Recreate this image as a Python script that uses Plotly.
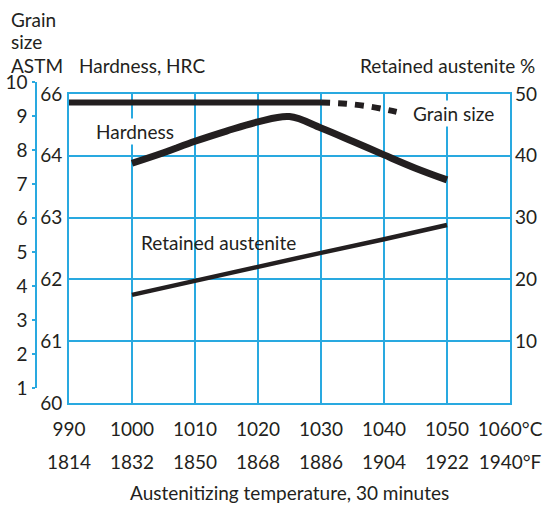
import plotly.graph_objects as go

# ---------------- data ----------------
temps_c = [990, 1000, 1010, 1020, 1030, 1040, 1050, 1060]
temps_c_labels = ["990", "1000", "1010", "1020", "1030", "1040", "1050", "1060°C"]
temps_f_labels = ["1814", "1832", "1850", "1868", "1886", "1904", "1922", "1940°F"]

hard_t = [1000, 1005, 1010, 1015, 1020, 1025, 1030, 1035, 1040, 1045, 1050]
hard_hrc = [63.88, 64.1, 64.47, 64.8, 65.1, 65.27, 64.9, 64.47, 64.03, 63.8, 63.61]

ra_t = [1000, 1010, 1020, 1030, 1040, 1050]
ra_pct = [17.5, 19.8, 22.0, 24.3, 26.5, 28.8]

grain_solid_t = [990, 1030]
grain_solid = [9.4, 9.4]
grain_dash_t = [1030, 1034, 1038, 1042]
grain_dash = [9.4, 9.36, 9.27, 9.12]

hrc_ticks = [60, 61, 62, 63, 64, 66]
ra_ticks = [10, 20, 30, 40, 50]
grain_ticks = [1, 2, 3, 4, 5, 6, 7, 8, 9, 10]


# hardness scale: 1 HRC per division up to 64, then 2 HRC per division (64-66)
def hrc_axis(v):
    return v if v <= 64 else 64 + (v - 64) / 2.0


BLUE = "#29a9e0"
INK = "#231f20"
FONT = "Lato"
FS = 19
W, H = 544, 505


def px_x(p):
    return p / W


def px_y(p):
    return 1 - p / H


fig = go.Figure()

fig.add_trace(go.Scatter(
    x=hard_t, y=[hrc_axis(v) for v in hard_hrc], mode="lines",
    line=dict(color=INK, width=7, shape="spline", smoothing=1.0),
    xaxis="x", yaxis="y", showlegend=False, hoverinfo="skip"))

fig.add_trace(go.Scatter(
    x=ra_t, y=ra_pct, mode="lines",
    line=dict(color=INK, width=4.5),
    xaxis="x", yaxis="y2", showlegend=False, hoverinfo="skip"))

# invisible trace so the Fahrenheit axis is drawn
fig.add_trace(go.Scatter(
    x=[temps_c[0], temps_c[-1]], y=[None, None], mode="lines",
    xaxis="x2", yaxis="y", showlegend=False, hoverinfo="skip"))

fig.add_trace(go.Scatter(
    x=grain_solid_t, y=grain_solid, mode="lines",
    line=dict(color=INK, width=6),
    xaxis="x3", yaxis="y3", showlegend=False, hoverinfo="skip"))

fig.add_trace(go.Scatter(
    x=grain_dash_t, y=grain_dash, mode="lines",
    line=dict(color=INK, width=6, dash="9px,8px", shape="spline"),
    xaxis="x3", yaxis="y3", showlegend=False, hoverinfo="skip"))

xdom = [px_x(69), px_x(510)]

fig.update_layout(
    width=W, height=H,
    margin=dict(l=0, r=0, t=0, b=0, autoexpand=False),
    paper_bgcolor="white", plot_bgcolor="rgba(0,0,0,0)",
    font=dict(family=FONT, size=FS, color=INK),
    xaxis=dict(domain=xdom, range=[990, 1060], anchor="y", automargin=False,
               tickvals=temps_c, ticktext=temps_c_labels,
               showgrid=True, gridcolor=BLUE, gridwidth=1.5,
               showline=True, mirror=True, linecolor=BLUE, linewidth=2,
               zeroline=False, ticks="", ticklabelstandoff=8),
    xaxis2=dict(overlaying="x", anchor="y", side="bottom", range=[990, 1060],
                automargin=False,
                tickvals=temps_c, ticktext=temps_f_labels,
                showgrid=False, showline=False, zeroline=False,
                ticks="", ticklabelstandoff=46),
    xaxis3=dict(domain=xdom, range=[990, 1060], anchor="y3", visible=False,
                automargin=False),
    yaxis=dict(domain=[px_y(403), px_y(94)], range=[60, 65], anchor="x",
               automargin=False,
               tickvals=[hrc_axis(v) for v in hrc_ticks],
               ticktext=[str(v) for v in hrc_ticks],
               showgrid=True, gridcolor=BLUE, gridwidth=1.5,
               showline=True, mirror=True, linecolor=BLUE, linewidth=2,
               zeroline=False, ticks="", ticklabelstandoff=1),
    yaxis2=dict(overlaying="y", side="right", anchor="x", range=[0, 50],
                automargin=False,
                tickvals=ra_ticks, showgrid=False, showline=False,
                zeroline=False, ticks="", ticklabelstandoff=4),
    yaxis3=dict(domain=[px_y(388), px_y(82)], range=[1, 10], anchor="free",
                position=px_x(36), side="left", automargin=False,
                tickvals=grain_ticks, ticks="outside", ticklen=3,
                tickcolor=BLUE, tickwidth=1.5,
                showline=True, linecolor=BLUE, linewidth=1.5,
                showgrid=False, zeroline=False, ticklabelstandoff=1),
)


def ann(text, x, y, xanchor="center", yanchor="middle", xref="paper", yref="paper", bg=None):
    d = dict(text=text, x=x, y=y, xref=xref, yref=yref, xanchor=xanchor,
             yanchor=yanchor, showarrow=False, font=dict(family=FONT, size=FS, color=INK))
    if bg:
        d["bgcolor"] = bg
        d["borderpad"] = 1
    fig.add_annotation(**d)


# header texts (pixel positions converted to paper)
ann("Grain", px_x(9), px_y(19), xanchor="left")
ann("size", px_x(9), px_y(42), xanchor="left")
ann("ASTM", px_x(9), px_y(65), xanchor="left")
ann("Hardness, HRC", px_x(77), px_y(65), xanchor="left")
ann("Retained austenite %", px_x(537), px_y(65), xanchor="right")
ann("Austenitizing temperature, 30 minutes", px_x(289.5), px_y(492))

# series labels (data coordinates)
ann("Hardness", 1000.5, 43.9, xref="x", yref="y2", bg="white")
ann("Retained austenite", 1013.7, 26.0, xref="x", yref="y2")
ann("Grain size", 1051.0, 46.8, xref="x", yref="y2", bg="white")

fig.write_html(
    "out.html",
    config={"displayModeBar": False},
    post_script="document.body.style.margin='0';document.body.style.overflow='hidden';",
)
